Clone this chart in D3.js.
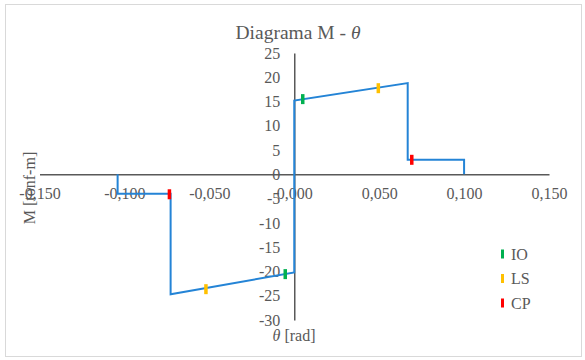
<!DOCTYPE html>
<html>
<head>
<meta charset="utf-8">
<script src="https://cdn.jsdelivr.net/npm/d3@7"></script>
<style>
  html, body { margin: 0; padding: 0; background: #ffffff; }
  svg { display: block; }
  text { font-family: "Liberation Serif", "Times New Roman", serif; fill: #595959; }
</style>
</head>
<body>
<svg id="chart" width="585" height="360"></svg>
<script>
// Moment–rotation backbone curve (rotation in rad, moment in tonf-m)
const thetaPath  = [-0.104, -0.104, -0.0728, -0.0728, 0.0, 0.0, 0.0668, 0.0668, 0.1, 0.1];
const momentPath = [0.0, -4.0, -4.0, -24.7, -20.2, 15.2, 18.8, 3.0, 3.0, 0.0];

// Performance levels marked on the curve
const levelNames  = ["IO", "LS", "CP"];
const levelColors = ["#00B050", "#FFC000", "#FF0000"];
const levelThetaPos = [0.005, 0.0495, 0.0692];
const levelMomPos   = [15.5, 17.75, 3.0];
const levelThetaNeg = [-0.0053, -0.052, -0.0735];
const levelMomNeg   = [-20.55, -23.65, -4.1];

// Axis ticks
const xTicks = [-0.15, -0.10, -0.05, 0.0, 0.05, 0.10, 0.15];
const yTicks = [25, 20, 15, 10, 5, 0, -5, -10, -15, -20, -25, -30];

const svg = d3.select("#chart");

// Chart frame
svg.append("rect")
  .attr("x", 5.5).attr("y", 4.5)
  .attr("width", 576).attr("height", 352)
  .attr("fill", "#ffffff")
  .attr("stroke", "#d9d9d9").attr("stroke-width", 1);

const x = d3.scaleLinear().domain([-0.15, 0.15]).range([39.5, 549]);
const y = d3.scaleLinear().domain([-30, 25]).range([320, 53]);

const locale = d3.formatLocale({ decimal: ",", thousands: ".", grouping: [3], currency: ["", ""], minus: "-" });
const fx = locale.format(".3f");
const fy = locale.format("d");

// Title
const title = svg.append("text")
  .attr("x", 298).attr("y", 38.5)
  .attr("text-anchor", "middle")
  .style("font-size", "19.5px");
title.append("tspan").text("Diagrama M - ");
title.append("tspan").style("font-style", "italic").text("θ");

// Horizontal axis through M = 0
const xAxis = svg.append("g")
  .attr("transform", `translate(0,${y(0)})`)
  .call(d3.axisBottom(x).tickValues(xTicks).tickFormat(fx).tickSize(0).tickSizeOuter(0).tickPadding(13));
xAxis.select(".domain").attr("stroke", "#595959").attr("stroke-width", 1.5);
xAxis.selectAll("text").style("font-size", "16px").attr("fill", "#595959");

// Vertical axis through θ = 0
const yAxis = svg.append("g")
  .attr("transform", `translate(${x(0)},0)`)
  .call(d3.axisLeft(y).tickValues(yTicks).tickFormat(fy).tickSize(0).tickSizeOuter(0).tickPadding(14));
yAxis.select(".domain").attr("stroke", "#595959").attr("stroke-width", 1.5);
yAxis.selectAll("text").style("font-size", "16px").attr("fill", "#595959");

// Axis titles
svg.append("text")
  .attr("transform", "translate(35,188) rotate(-90)")
  .attr("text-anchor", "middle")
  .style("font-size", "16px")
  .text("M [tonf-m]");

const xt = svg.append("text")
  .attr("x", 294).attr("y", 341)
  .attr("text-anchor", "middle")
  .style("font-size", "16px");
xt.append("tspan").style("font-style", "italic").text("θ");
xt.append("tspan").text(" [rad]");

// Backbone curve
const pts = thetaPath.map((t, i) => [t, momentPath[i]]);
svg.append("path")
  .datum(pts)
  .attr("fill", "none")
  .attr("stroke", "#2484D6")
  .attr("stroke-width", 2)
  .attr("stroke-linejoin", "miter")
  .attr("d", d3.line().x(d => x(d[0])).y(d => y(d[1])));

// Performance level markers (short vertical bars)
const marks = [];
levelNames.forEach((n, i) => {
  marks.push({ t: levelThetaPos[i], m: levelMomPos[i], c: levelColors[i] });
  marks.push({ t: levelThetaNeg[i], m: levelMomNeg[i], c: levelColors[i] });
});
svg.selectAll("rect.mark")
  .data(marks)
  .enter().append("rect")
  .attr("class", "mark")
  .attr("x", d => x(d.t) - 1.75)
  .attr("y", d => y(d.m) - 5)
  .attr("width", 3.5)
  .attr("height", 10)
  .attr("fill", d => d.c);

// Legend
const legend = svg.append("g").attr("transform", "translate(501,254)");
levelNames.forEach((n, i) => {
  const g = legend.append("g").attr("transform", `translate(0,${i * 24.5})`);
  g.append("rect")
    .attr("x", 0).attr("y", -4.5)
    .attr("width", 3).attr("height", 9)
    .attr("fill", levelColors[i]);
  g.append("text")
    .attr("x", 10).attr("y", 5.5)
    .style("font-size", "16px")
    .text(n);
});
</script>
</body>
</html>
